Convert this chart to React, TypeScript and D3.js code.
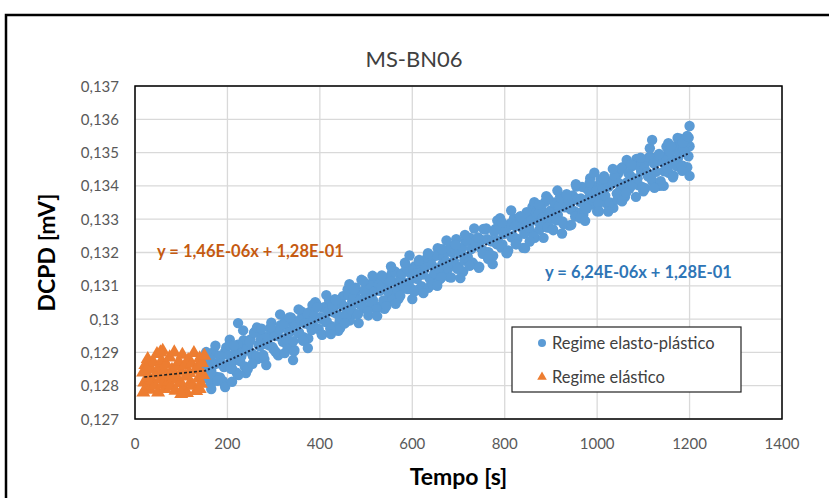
import React from "react";
import * as d3 from "d3";

const xTicks = [0, 200, 400, 600, 800, 1000, 1200, 1400];
const xTickLabels = ["0", "200", "400", "600", "800", "1000", "1200", "1400"];
const yTicks = [0.127, 0.128, 0.129, 0.13, 0.131, 0.132, 0.133, 0.134, 0.135, 0.136, 0.137];
const yTickLabels = ["0,127", "0,128", "0,129", "0,13", "0,131", "0,132", "0,133", "0,134", "0,135", "0,136", "0,137"];

const title = "MS-BN06";
const xTitle = "Tempo [s]";
const yTitle = "DCPD [mV]";
const seriesNames = ["Regime elasto-plástico", "Regime elástico"];
const equations = ["y = 6,24E-06x + 1,28E-01", "y = 1,46E-06x + 1,28E-01"];

// Regime elasto-plástico (blue circles): time [s]
const elastoTime = [
  150, 155, 160, 165, 170, 175, 180, 185, 190, 195,
  200, 205, 210, 215, 220, 225, 230, 235, 240, 245,
  250, 255, 260, 265, 270, 275, 280, 285, 290, 295,
  300, 305, 310, 315, 320, 325, 330, 335, 340, 345,
  350, 355, 360, 365, 370, 375, 380, 385, 390, 395,
  400, 405, 410, 415, 420, 425, 430, 435, 440, 445,
  450, 455, 460, 465, 470, 475, 480, 485, 490, 495,
  500, 505, 510, 515, 520, 525, 530, 535, 540, 545,
  550, 555, 560, 565, 570, 575, 580, 585, 590, 595,
  600, 605, 610, 615, 620, 625, 630, 635, 640, 645,
  650, 655, 660, 665, 670, 675, 680, 685, 690, 695,
  700, 705, 710, 715, 720, 725, 730, 735, 740, 745,
  750, 755, 760, 765, 770, 775, 780, 785, 790, 795,
  800, 805, 810, 815, 820, 825, 830, 835, 840, 845,
  850, 855, 860, 865, 870, 875, 880, 885, 890, 895,
  900, 905, 910, 915, 920, 925, 930, 935, 940, 945,
  950, 955, 960, 965, 970, 975, 980, 985, 990, 995,
  1000, 1005, 1010, 1015, 1020, 1025, 1030, 1035, 1040, 1045,
  1050, 1055, 1060, 1065, 1070, 1075, 1080, 1085, 1090, 1095,
  1100, 1105, 1110, 1115, 1120, 1125, 1130, 1135, 1140, 1145,
  1150, 1155, 1160, 1165, 1170, 1175, 1180, 1185, 1190, 1195, 1200,
  152.5, 157.5, 162.5, 167.5, 172.5, 177.5, 182.5, 187.5, 192.5, 197.5,
  202.5, 207.5, 212.5, 217.5, 222.5, 227.5, 232.5, 237.5, 242.5, 247.5,
  252.5, 257.5, 262.5, 267.5, 272.5, 277.5, 282.5, 287.5, 292.5, 297.5,
  302.5, 307.5, 312.5, 317.5, 322.5, 327.5, 332.5, 337.5, 342.5, 347.5,
  352.5, 357.5, 362.5, 367.5, 372.5, 377.5, 382.5, 387.5, 392.5, 397.5,
  402.5, 407.5, 412.5, 417.5, 422.5, 427.5, 432.5, 437.5, 442.5, 447.5,
  452.5, 457.5, 462.5, 467.5, 472.5, 477.5, 482.5, 487.5, 492.5, 497.5,
  502.5, 507.5, 512.5, 517.5, 522.5, 527.5, 532.5, 537.5, 542.5, 547.5,
  552.5, 557.5, 562.5, 567.5, 572.5, 577.5, 582.5, 587.5, 592.5, 597.5,
  602.5, 607.5, 612.5, 617.5, 622.5, 627.5, 632.5, 637.5, 642.5, 647.5,
  652.5, 657.5, 662.5, 667.5, 672.5, 677.5, 682.5, 687.5, 692.5, 697.5,
  702.5, 707.5, 712.5, 717.5, 722.5, 727.5, 732.5, 737.5, 742.5, 747.5,
  752.5, 757.5, 762.5, 767.5, 772.5, 777.5, 782.5, 787.5, 792.5, 797.5,
  802.5, 807.5, 812.5, 817.5, 822.5, 827.5, 832.5, 837.5, 842.5, 847.5,
  852.5, 857.5, 862.5, 867.5, 872.5, 877.5, 882.5, 887.5, 892.5, 897.5,
  902.5, 907.5, 912.5, 917.5, 922.5, 927.5, 932.5, 937.5, 942.5, 947.5,
  952.5, 957.5, 962.5, 967.5, 972.5, 977.5, 982.5, 987.5, 992.5, 997.5,
  1002.5, 1007.5, 1012.5, 1017.5, 1022.5, 1027.5, 1032.5, 1037.5, 1042.5, 1047.5,
  1052.5, 1057.5, 1062.5, 1067.5, 1072.5, 1077.5, 1082.5, 1087.5, 1092.5, 1097.5,
  1102.5, 1107.5, 1112.5, 1117.5, 1122.5, 1127.5, 1132.5, 1137.5, 1142.5, 1147.5,
  1152.5, 1157.5, 1162.5, 1167.5, 1172.5, 1177.5, 1182.5, 1187.5, 1192.5, 1197.5,
  154, 164, 174, 184, 194, 204, 214, 224, 234, 244,
  254, 264, 274, 284, 294, 304, 314, 324, 334, 344,
  354, 364, 374, 384, 394, 404, 414, 424, 434, 444,
  454, 464, 474, 484, 494, 504, 514, 524, 534, 544,
  554, 564, 574, 584, 594, 604, 614, 624, 634, 644,
  654, 664, 674, 684, 694, 704, 714, 724, 734, 744,
  754, 764, 774, 784, 794, 804, 814, 824, 834, 844,
  854, 864, 874, 884, 894, 904, 914, 924, 934, 944,
  954, 964, 974, 984, 994, 1004, 1014, 1024, 1034, 1044,
  1054, 1064, 1074, 1084, 1094, 1104, 1114, 1124, 1134, 1144,
  1154, 1164, 1174, 1184, 1194,
  223, 342, 1119, 1200, 1200, 1198, 1185, 1195, 1160, 165, 195, 178, 210,
];
// DCPD in units of 1e-5 mV
const elastoDcpdE5 = [
  12856, 12822, 12888, 12845, 12901, 12819, 12867, 12887, 12814, 12902,
  12860, 12938, 12851, 12892, 12839, 12915, 12888, 12937, 12838, 12918,
  12939, 12889, 12962, 12880, 12918, 12950, 12880, 12946, 12921, 12989,
  12909, 12950, 12891, 12982, 12932, 12995, 12918, 12962, 12988, 12907,
  12988, 12960, 13023, 12946, 12995, 12942, 13023, 12984, 13051, 12972,
  13006, 12953, 13036, 12993, 13056, 12979, 13020, 13045, 12965, 13044,
  13069, 13012, 13089, 12996, 13053, 13016, 13084, 13045, 13118, 13033,
  13074, 13011, 13096, 13057, 13120, 13038, 13085, 13104, 13031, 13122,
  13075, 13136, 13065, 13111, 13060, 13131, 13110, 13165, 13090, 13139,
  13060, 13158, 13121, 13178, 13099, 13146, 13169, 13094, 13163, 13188,
  13132, 13213, 13120, 13165, 13148, 13203, 13126, 13201, 13175, 13240,
  13157, 13200, 13143, 13234, 13187, 13244, 13170, 13225, 13240, 13157,
  13238, 13205, 13272, 13201, 13234, 13190, 13271, 13236, 13303, 13224,
  13257, 13198, 13281, 13245, 13302, 13225, 13280, 13293, 13214, 13295,
  13316, 13264, 13337, 13244, 13295, 13268, 13329, 13292, 13369, 13276,
  13326, 13267, 13342, 13313, 13368, 13293, 13336, 13363, 13281, 13356,
  13325, 13398, 13319, 13362, 13313, 13394, 13360, 13423, 13344, 13375,
  13324, 13405, 13368, 13429, 13348, 13398, 13413, 13334, 13421, 13436,
  13389, 13456, 13367, 13411, 13392, 13459, 13418, 13481, 13402, 13445,
  13384, 13472, 13429, 13488, 13413, 13470, 13479, 13400, 13475, 13444,
  13518, 13439, 13480, 13431, 13510, 13483, 13542, 13461, 13503, 13456, 13519,
  12840, 12866, 12881, 12832, 12865, 12826, 12890, 12867, 12856, 12915,
  12891, 12851, 12874, 12907, 12923, 12874, 12899, 12858, 12913, 12932,
  12898, 12959, 12889, 12923, 12940, 12892, 12925, 12946, 12971, 12916,
  12949, 12897, 12969, 12942, 12983, 12940, 12960, 13005, 12934, 12981,
  12958, 12999, 12938, 12987, 13018, 12982, 12967, 13010, 13045, 12970,
  13001, 13034, 12991, 13022, 12971, 13039, 13060, 13015, 12992, 13045,
  13038, 13009, 13072, 13029, 13064, 13094, 13015, 13058, 13039, 13088,
  13062, 13105, 13046, 13083, 13030, 13104, 13097, 13056, 13121, 13086,
  13113, 13058, 13143, 13090, 13109, 13137, 13094, 13153, 13110, 13091,
  13148, 13137, 13088, 13165, 13134, 13158, 13185, 13122, 13163, 13138,
  13191, 13152, 13125, 13186, 13173, 13151, 13220, 13167, 13210, 13151,
  13198, 13215, 13176, 13235, 13172, 13210, 13165, 13228, 13245, 13214,
  13196, 13269, 13240, 13193, 13234, 13262, 13225, 13282, 13215, 13256,
  13271, 13206, 13287, 13250, 13279, 13241, 13306, 13273, 13256, 13321,
  13276, 13297, 13248, 13319, 13316, 13282, 13305, 13352, 13275, 13320,
  13301, 13350, 13297, 13340, 13363, 13285, 13338, 13359, 13330, 13371,
  13308, 13361, 13352, 13397, 13338, 13332, 13383, 13402, 13365, 13384,
  13346, 13419, 13390, 13371, 13414, 13350, 13411, 13430, 13377, 13408,
  13453, 13400, 13379, 13438, 13429, 13403, 13464, 13423, 13460, 13397,
  13452, 13441, 13486, 13421, 13468, 13442, 13491, 13414, 13471, 13490,
  13453, 13502, 13471, 13518, 13459, 13497, 13456, 13511, 13530, 13489,
  12901, 12804, 12920, 12825, 12806, 12922, 12921, 12832, 12966, 12850,
  12865, 12975, 12971, 12862, 12976, 12902, 13014, 12898, 13005, 12903,
  13029, 12935, 12913, 13042, 13036, 12954, 13072, 12955, 13057, 12973,
  12987, 13105, 13089, 12988, 13114, 13024, 13130, 13009, 13131, 13039,
  13158, 13046, 13070, 13169, 13191, 13083, 13175, 13078, 13198, 13104,
  13100, 13210, 13236, 13125, 13223, 13123, 13253, 13160, 13272, 13154,
  13271, 13181, 13165, 13296, 13290, 13198, 13326, 13225, 13309, 13213,
  13233, 13351, 13343, 13244, 13362, 13270, 13386, 13257, 13375, 13283,
  13405, 13303, 13295, 13410, 13440, 13324, 13422, 13323, 13451, 13359,
  13354, 13478, 13464, 13367, 13485, 13393, 13513, 13394, 13496, 13400,
  13528, 13426, 13544, 13445, 13543,
  12988, 12877, 13538, 13580, 13430, 13545, 13530, 13550, 13520, 12790, 12796, 12815, 12812,
];

// Regime elástico (orange triangles)
const elasticoTime = [
  17.5, 20, 22.5, 25, 27.5, 30, 32.5, 35, 37.5, 40,
  42.5, 45, 47.5, 50, 52.5, 55, 57.5, 60, 62.5, 65,
  67.5, 70, 72.5, 75, 77.5, 80, 82.5, 85, 87.5, 90,
  92.5, 95, 97.5, 100, 102.5, 105, 107.5, 110, 112.5, 115,
  117.5, 120, 122.5, 125, 127.5, 130, 132.5, 135, 137.5, 140,
  142.5, 145, 147.5, 150, 18, 60, 100, 140, 25, 55,
];
const elasticoDcpdE5 = [
  12840, 12810, 12862, 12795, 12880, 12825, 12788, 12850, 12815, 12870,
  12800, 12835, 12895, 12780, 12855, 12820, 12875, 12805, 12845, 12790,
  12865, 12830, 12812, 12885, 12798, 12848, 12823, 12900, 12785, 12858,
  12818, 12872, 12808, 12842, 12893, 12795, 12860, 12828, 12778, 12877,
  12838, 12810, 12866, 12800, 12898, 12846, 12784, 12854, 12822, 12882,
  12806, 12868, 12832, 12890, 12780, 12905, 12775, 12790, 12850, 12900,
];

// Linear trendlines [slope, intercept, tStart, tEnd]
const elastoFit = [6.24e-6, 0.1275, 150, 1200];
const elasticoFit = [1.46e-6, 0.12823, 20, 150];

const W = 829;
const H = 498;
const M = { left: 135, top: 86, right: 782, bottom: 419 };
const BLUE = "#5B9BD5";
const ORANGE = "#ED7D31";
const FONT = "Lato, 'Open Sans', sans-serif";

export default function App() {
  const x = d3.scaleLinear().domain([0, 1400]).range([M.left, M.right]);
  const y = d3.scaleLinear().domain([0.127, 0.137]).range([M.bottom, M.top]);
  const tri = d3.symbol().type(d3.symbolTriangle).size(85);
  const triSmall = d3.symbol().type(d3.symbolTriangle).size(40);

  const fitPath = (f: number[]) =>
    d3
      .line<number>()
      .x((t) => x(t))
      .y((t) => y(f[0] * t + f[1]))([f[2], f[3]]);

  return (
    <svg
      width={W}
      height={H}
      style={{ position: "fixed", left: 0, top: 0, background: "#fff" }}
      fontFamily={FONT}
    >
      <rect x={0} y={0} width={W} height={H} fill="#fff" />
      <rect x={6} y={15} width={W + 20} height={H + 20} fill="none" stroke="#000" strokeWidth={2.5} />

      <text x={414} y={67} fontSize={22} fill="#404040" textAnchor="middle">
        {title}
      </text>

      {/* grid */}
      {yTicks.map((v) => (
        <line key={"gy" + v} x1={M.left} x2={M.right} y1={y(v)} y2={y(v)} stroke="#d9d9d9" strokeWidth={1.3} />
      ))}
      {xTicks.map((v) => (
        <line key={"gx" + v} x1={x(v)} x2={x(v)} y1={M.top} y2={M.bottom} stroke="#d9d9d9" strokeWidth={1.3} />
      ))}

      {/* tick labels */}
      {yTicks.map((v, i) => (
        <text key={"ty" + v} x={119} y={y(v) + 5.5} fontSize={15} fill="#595959" textAnchor="end">
          {yTickLabels[i]}
        </text>
      ))}
      {xTicks.map((v, i) => (
        <text key={"tx" + v} x={x(v)} y={449} fontSize={15} fill="#595959" textAnchor="middle">
          {xTickLabels[i]}
        </text>
      ))}

      {/* points */}
      {elastoTime.map((t, i) => (
        <circle key={"b" + i} cx={x(t)} cy={y(elastoDcpdE5[i] / 1e5)} r={5.2} fill={BLUE} />
      ))}
      {elasticoTime.map((t, i) => (
        <path
          key={"o" + i}
          d={tri() as string}
          transform={`translate(${x(t)},${y(elasticoDcpdE5[i] / 1e5)})`}
          fill={ORANGE}
        />
      ))}

      {/* trendlines */}
      <path d={fitPath(elastoFit) as string} stroke="#1b2a48" strokeWidth={2} strokeDasharray="2,2" fill="none" />
      <path d={fitPath(elasticoFit) as string} stroke="#222" strokeWidth={1.6} strokeDasharray="3,2" fill="none" />

      {/* plot border */}
      <rect x={M.left} y={M.top} width={M.right - M.left} height={M.bottom - M.top} fill="none" stroke="#000" strokeWidth={1.5} />

      {/* equations */}
      <text x={157} y={257} fontSize={16.5} fontWeight="bold" fill="#C55A11">
        {equations[1]}
      </text>
      <text x={545} y={278} fontSize={16.5} fontWeight="bold" fill="#2E75B6">
        {equations[0]}
      </text>

      {/* legend */}
      <rect x={512} y={327} width={229} height={65} fill="#fff" stroke="#222" strokeWidth={1.2} />
      <circle cx={542} cy={343} r={4} fill={BLUE} />
      <text x={552} y={348.5} fontSize={16.5} fill="#404040">
        {seriesNames[0]}
      </text>
      <path d={triSmall() as string} transform="translate(542,377)" fill={ORANGE} />
      <text x={552} y={382.5} fontSize={16.5} fill="#404040">
        {seriesNames[1]}
      </text>

      {/* axis titles */}
      <text x={(M.left + M.right) / 2} y={485} fontSize={23} fontWeight="bold" fill="#000" textAnchor="middle">
        {xTitle}
      </text>
      <text
        transform={`translate(55,${(M.top + M.bottom) / 2}) rotate(-90)`}
        fontSize={23}
        fontWeight="bold"
        fill="#000"
        textAnchor="middle"
      >
        {yTitle}
      </text>
    </svg>
  );
}
